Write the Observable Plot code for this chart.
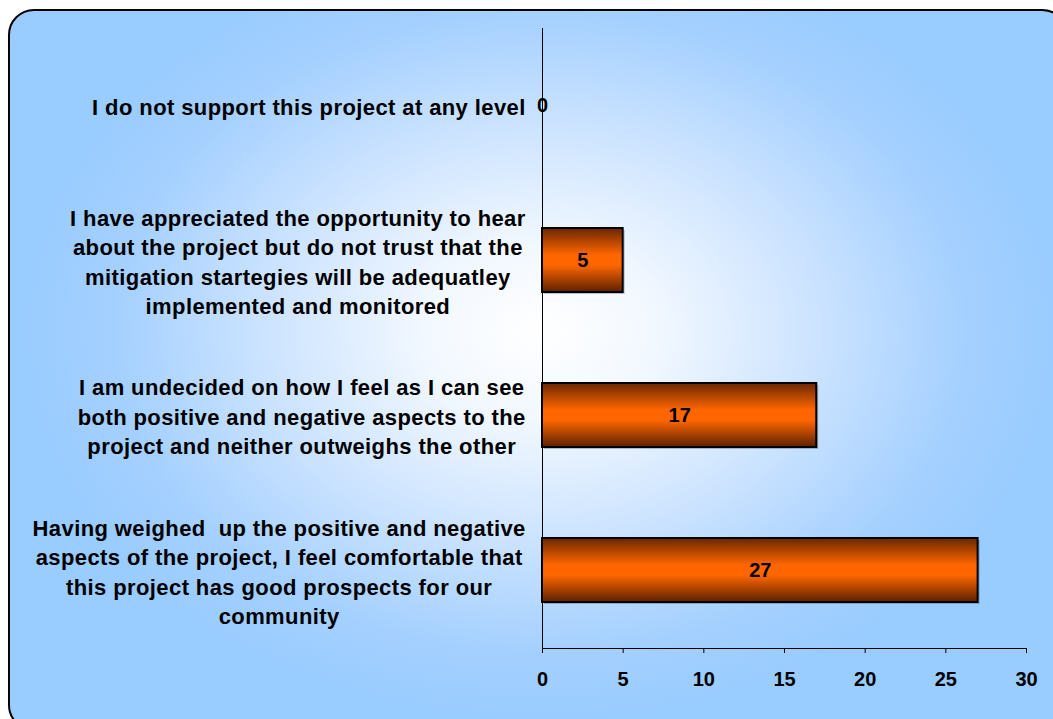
<!DOCTYPE html>
<html><head><meta charset="utf-8">
<script src="https://cdn.jsdelivr.net/npm/d3@7"></script>
<script src="https://cdn.jsdelivr.net/npm/@observablehq/plot@0.6"></script>
<style>
html,body{margin:0;padding:0;background:#fff;overflow:hidden;}
#wrap{position:relative;width:1053px;height:719px;overflow:hidden;}
#bg{position:absolute;left:8px;top:9px;width:1060px;height:722px;box-sizing:border-box;border:2px solid #000;border-radius:26px;
 background:radial-gradient(ellipse 520px 390px at 530px 321px, #ffffff 0%, #f2f8ff 22%, #cde4ff 52%, #a4d0ff 82%, #99ccff 100%);}
#chart{position:absolute;left:0;top:0;}
</style></head><body>
<div id="wrap"><div id="bg"></div><div id="chart"></div></div>
<script>
const categories = [
  "I do not support this project at any level",
  "I have appreciated the opportunity to hear\nabout the project but do not trust that the\nmitigation startegies will be adequatley\nimplemented and monitored",
  "I am undecided on how I feel as I can see\nboth positive and negative aspects to the\nproject and neither outweighs the other",
  "Having weighed  up the positive and negative\naspects of the project, I feel comfortable that\nthis project has good prospects for our\ncommunity"
];
const counts = [0, 5, 17, 27];
const xTicks = [0, 5, 10, 15, 20, 25, 30];

const fontFamily = '"Liberation Sans", Arial, Helvetica, sans-serif';
const FS = 22, LS = 0.4;
const data = categories.map((c, i) => ({cat: c, n: counts[i]}));

const ctx = document.createElement("canvas").getContext("2d");
ctx.font = `bold ${FS}px ${fontFamily}`;
const blockWidth = label => Math.max(...label.split("\n").map(l => ctx.measureText(l).width + LS * (l.length - 1)));

const W = 1053, H = 719, ML = 542, MR = 27, MT = 28, MB = 71;
const labelRight = 525;

const defs = () => {
  const d = d3.create("svg:defs");
  const g = d.append("linearGradient").attr("id", "barGrad")
    .attr("x1", 0).attr("y1", 0).attr("x2", 0).attr("y2", 1);
  [[0, "#6a2600"], [0.42, "#ff6600"], [0.58, "#ff6600"], [1, "#5c2000"]]
    .forEach(([o, c]) => g.append("stop").attr("offset", o).attr("stop-color", c));
  return d.node();
};

const chart = Plot.plot({
  width: W, height: H,
  marginLeft: ML, marginRight: MR, marginTop: MT, marginBottom: MB,
  style: {background: "transparent", fontFamily, fontWeight: "bold", color: "#000", overflow: "visible", whiteSpace: "pre"},
  x: {domain: [0, 30], axis: null},
  y: {domain: categories, paddingInner: 0.587, paddingOuter: 0.2935, axis: null},
  marks: [
    defs,
    Plot.barX(data.filter(d => d.n > 0), {x: "n", y: "cat", fill: "#334", fillOpacity: 0.3, dx: 2, dy: 2}),
    Plot.barX(data.filter(d => d.n > 0), {x: "n", y: "cat", fill: "url(#barGrad)", stroke: "#000", strokeWidth: 2}),
    Plot.ruleX([0], {stroke: "#000", strokeWidth: 1}),
    Plot.frame({anchor: "bottom", stroke: "#000", strokeWidth: 1}),
    Plot.axisX({ticks: xTicks, tickSize: 5, tickPadding: 18, fontSize: 20, stroke: "#000", fill: "#000", label: null}),
    Plot.text(data, {x: d => d.n / 2, y: "cat", text: d => String(d.n), fontSize: 20, fill: "#000"}),
    ...categories.map(c => Plot.text([c], {
      x: () => 0, y: d => d, text: d => d,
      textAnchor: "middle", lineHeight: 29.5 / FS, fontSize: FS, fill: "#000",
      dx: (labelRight - blockWidth(c) / 2) - ML
    }))
  ]
});
chart.querySelectorAll(`g[font-size="${FS}"]`).forEach(g => g.setAttribute("letter-spacing", LS));
document.getElementById("chart").appendChild(chart);
</script>
</body></html>
